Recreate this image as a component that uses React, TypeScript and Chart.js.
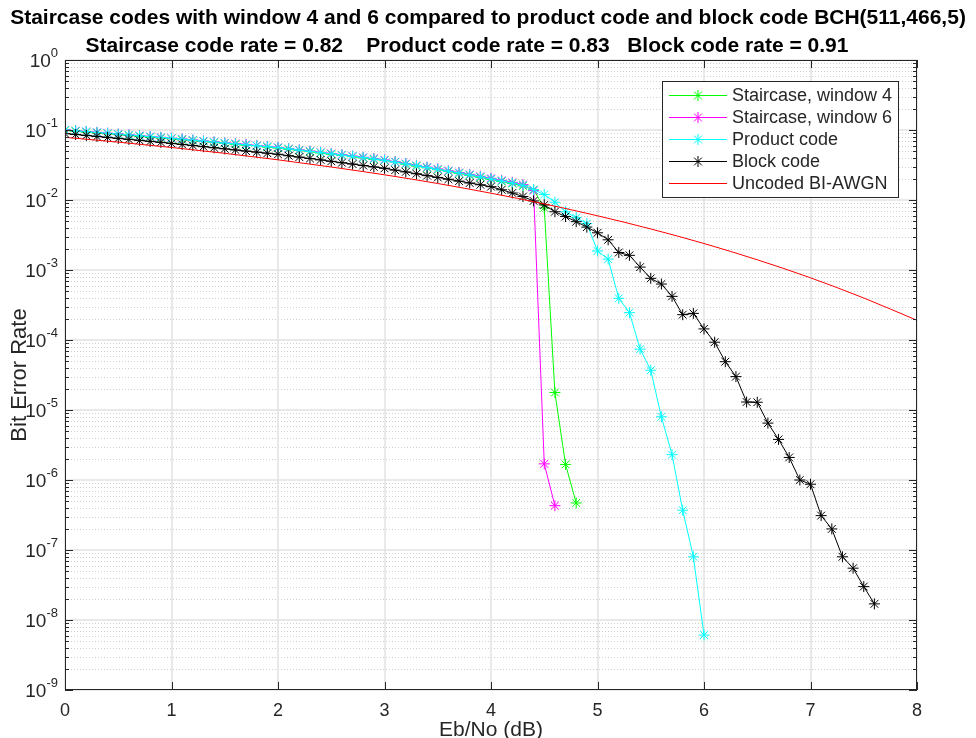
import React, { useEffect, useRef } from 'react';
import { Chart, registerables } from 'chart.js';

Chart.register(...registerables);

const FONT = '"Liberation Sans", Arial, Helvetica, sans-serif';
const TITLE = 'Staircase codes with window 4 and 6 compared to product code and block code BCH(511,466,5)';
const SUBTITLE = 'Staircase code rate = 0.82    Product code rate = 0.83   Block code rate = 0.91';
const X_LABEL = 'Eb/No (dB)';
const Y_LABEL = 'Bit Error Rate';
const X_TICKS = [0, 1, 2, 3, 4, 5, 6, 7, 8];
const Y_DECADES = [0, -1, -2, -3, -4, -5, -6, -7, -8, -9];

// Eb/No grid (dB) shared by the simulated curves
const EBNO = [
  0.0, 0.1, 0.2, 0.3, 0.4, 0.5, 0.6, 0.7, 0.8, 0.9,
  1.0, 1.1, 1.2, 1.3, 1.4, 1.5, 1.6, 1.7, 1.8, 1.9,
  2.0, 2.1, 2.2, 2.3, 2.4, 2.5, 2.6, 2.7, 2.8, 2.9,
  3.0, 3.1, 3.2, 3.3, 3.4, 3.5, 3.6, 3.7, 3.8, 3.9,
  4.0, 4.1, 4.2, 4.3, 4.4, 4.5, 4.6, 4.7, 4.8, 4.9,
  5.0, 5.1, 5.2, 5.3, 5.4, 5.5, 5.6, 5.7, 5.8, 5.9,
  6.0, 6.1, 6.2, 6.3, 6.4, 6.5, 6.6, 6.7, 6.8, 6.9,
  7.0, 7.1, 7.2, 7.3, 7.4, 7.5, 7.6,
];

const BER_STAIRCASE_W4 = [
  0.0985, 0.0960, 0.0935, 0.0910, 0.0884, 0.0860, 0.0836, 0.0814, 0.0792, 0.0771,
  0.0750, 0.0727, 0.0706, 0.0684, 0.0664, 0.0644, 0.0624, 0.0606, 0.0598, 0.0570,
  0.0553, 0.0531, 0.0510, 0.0490, 0.0470, 0.0451, 0.0436, 0.0416, 0.0399, 0.0381,
  0.0366, 0.0350, 0.0324, 0.0305, 0.0288, 0.0271, 0.0255, 0.0240, 0.0225, 0.0211,
  0.0197, 0.0184, 0.0172, 0.0159, 0.0140, 0.0077, 1.78e-5, 1.67e-6, 4.7e-7,
];

const BER_STAIRCASE_W6 = [
  0.1005, 0.0978, 0.0952, 0.0926, 0.0901, 0.0877, 0.0853, 0.0835, 0.0808, 0.0786,
  0.0764, 0.0745, 0.0720, 0.0698, 0.0677, 0.0657, 0.0642, 0.0622, 0.0601, 0.0583,
  0.0565, 0.0542, 0.0520, 0.0500, 0.0480, 0.0463, 0.0443, 0.0425, 0.0408, 0.0391,
  0.0374, 0.0352, 0.0332, 0.0313, 0.0295, 0.0278, 0.0262, 0.0247, 0.0232, 0.0218,
  0.0204, 0.0191, 0.0179, 0.0166, 0.0136, 1.7e-6, 4.3e-7,
];

const BER_PRODUCT = [
  0.1000, 0.0973, 0.0947, 0.0921, 0.0896, 0.0872, 0.0848, 0.0825, 0.0803, 0.0781,
  0.0760, 0.0737, 0.0715, 0.0693, 0.0672, 0.0652, 0.0632, 0.0613, 0.0595, 0.0577,
  0.0560, 0.0538, 0.0516, 0.0496, 0.0476, 0.0457, 0.0438, 0.0421, 0.0404, 0.0386,
  0.0370, 0.0348, 0.0328, 0.0309, 0.0291, 0.0274, 0.0258, 0.0243, 0.0228, 0.0214,
  0.0200, 0.0187, 0.0175, 0.0162, 0.0140, 0.0120, 0.0093, 0.0068, 0.0056, 0.0046,
  0.00187, 0.00143, 3.94e-4, 2.46e-4, 7.4e-5, 3.7e-5, 8.0e-6, 2.3e-6, 3.7e-7, 8.0e-8,
  6.1e-9,
];

const BER_BLOCK = [
  0.0890, 0.0862, 0.0835, 0.0809, 0.0783, 0.0758, 0.0734, 0.0711, 0.0688, 0.0666,
  0.0645, 0.0622, 0.0600, 0.0578, 0.0558, 0.0538, 0.0519, 0.0500, 0.0483, 0.0466,
  0.0450, 0.0429, 0.0410, 0.0392, 0.0374, 0.0357, 0.0341, 0.0326, 0.0311, 0.0297,
  0.0284, 0.0267, 0.0252, 0.0237, 0.0223, 0.0210, 0.0198, 0.0186, 0.0175, 0.0165,
  0.0155, 0.0140, 0.0126, 0.0112, 0.0097, 0.0085, 0.0068, 0.0058, 0.0049, 0.0041,
  0.0034, 0.0027, 0.00178, 0.00162, 0.0011, 7.6e-4, 6.3e-4, 4.2e-4, 2.3e-4, 2.4e-4,
  1.44e-4, 9.3e-5, 4.9e-5, 3.0e-5, 1.3e-5, 1.29e-5, 6.5e-6, 3.8e-6, 2.1e-6, 1.0e-6,
  8.7e-7, 3.1e-7, 2.0e-7, 8.0e-8, 5.5e-8, 3.0e-8, 1.7e-8,
];

const EBNO_UNCODED = [0, 0.5, 1, 1.5, 2, 2.5, 3, 3.5, 4, 4.5, 5, 5.5, 6, 6.5, 7, 7.5, 8];
const BER_UNCODED = [
  0.0786, 0.0671, 0.0563, 0.0464, 0.0375, 0.0296, 0.0229, 0.0172, 0.0125,
  0.0088, 0.00595, 0.00386, 0.00239, 0.00140, 7.73e-4, 3.98e-4, 1.91e-4,
];

const SERIES_NAMES = ['Staircase, window 4', 'Staircase, window 6', 'Product code', 'Block code', 'Uncoded BI-AWGN'];
const SERIES_COLORS = ['#00ff00', '#ff00ff', '#00ffff', '#000000', '#ff0000'];
const SERIES_MARKERS = [true, true, true, true, false];

const AXIS_COLOR = '#262626';

function pts(xs: number[], ys: number[]) {
  return ys.map((v, i) => ({ x: xs[i], y: v }));
}

function drawStar(ctx: CanvasRenderingContext2D, cx: number, cy: number, r: number) {
  ctx.beginPath();
  ctx.moveTo(cx - r, cy); ctx.lineTo(cx + r, cy);
  ctx.moveTo(cx, cy - r); ctx.lineTo(cx, cy + r);
  const d = r * Math.SQRT1_2;
  ctx.moveTo(cx - d, cy - d); ctx.lineTo(cx + d, cy + d);
  ctx.moveTo(cx - d, cy + d); ctx.lineTo(cx + d, cy - d);
  ctx.stroke();
}

const matlabPlugin = {
  id: 'matlabLook',
  beforeDatasetsDraw(chart: any) {
    const { ctx, chartArea: a, scales } = chart;
    const x = scales.x, y = scales.y;
    ctx.save();
    // minor horizontal dotted grid
    ctx.strokeStyle = '#cfcfcf';
    ctx.lineWidth = 1;
    ctx.setLineDash([1, 2]);
    for (const e of Y_DECADES) {
      if (e >= 0) continue;
      for (let k = 2; k <= 9; k++) {
        const py = Math.round(y.getPixelForValue(k * Math.pow(10, e))) + 0.5;
        ctx.beginPath(); ctx.moveTo(a.left, py); ctx.lineTo(a.right, py); ctx.stroke();
      }
    }
    ctx.setLineDash([]);
    // major grid
    ctx.strokeStyle = '#e2e2e2';
    ctx.lineWidth = 1.5;
    for (const e of Y_DECADES) {
      const py = Math.round(y.getPixelForValue(Math.pow(10, e)));
      ctx.beginPath(); ctx.moveTo(a.left, py); ctx.lineTo(a.right, py); ctx.stroke();
    }
    for (const t of X_TICKS) {
      const px = Math.round(x.getPixelForValue(t));
      ctx.beginPath(); ctx.moveTo(px, a.top); ctx.lineTo(px, a.bottom); ctx.stroke();
    }
    ctx.restore();
  },
  afterDatasetsDraw(chart: any) {
    const { ctx, chartArea: a, scales } = chart;
    const x = scales.x, y = scales.y;
    ctx.save();
    // axes box
    ctx.strokeStyle = AXIS_COLOR;
    ctx.lineWidth = 1;
    ctx.strokeRect(a.left + 0.5, a.top + 0.5, a.right - a.left - 1, a.bottom - a.top - 1);
    // ticks
    ctx.beginPath();
    for (const t of X_TICKS) {
      const px = Math.round(x.getPixelForValue(t)) + 0.5;
      ctx.moveTo(px, a.bottom); ctx.lineTo(px, a.bottom - 8);
      ctx.moveTo(px, a.top); ctx.lineTo(px, a.top + 8);
    }
    for (const e of Y_DECADES) {
      const py = Math.round(y.getPixelForValue(Math.pow(10, e))) + 0.5;
      ctx.moveTo(a.left, py); ctx.lineTo(a.left + 8, py);
      ctx.moveTo(a.right, py); ctx.lineTo(a.right - 8, py);
      if (e < 0) {
        for (let k = 2; k <= 9; k++) {
          const pm = Math.round(y.getPixelForValue(k * Math.pow(10, e))) + 0.5;
          ctx.moveTo(a.left, pm); ctx.lineTo(a.left + 4, pm);
          ctx.moveTo(a.right, pm); ctx.lineTo(a.right - 4, pm);
        }
      }
    }
    ctx.stroke();

    // y tick labels 10^e
    ctx.fillStyle = AXIS_COLOR;
    ctx.textBaseline = 'alphabetic';
    for (const e of Y_DECADES) {
      const py = y.getPixelForValue(Math.pow(10, e));
      const exp = String(e);
      ctx.font = `13px ${FONT}`;
      const ew = ctx.measureText(exp).width;
      const right = a.left - 7;
      ctx.textAlign = 'left';
      ctx.fillText(exp, right - ew, py - 3);
      ctx.font = `19px ${FONT}`;
      ctx.textAlign = 'right';
      ctx.fillText('10', right - ew, py + 7);
    }

    // legend
    const bx = a.right - 255, by = a.top + 21, bw = 236, bh = 116;
    ctx.fillStyle = '#ffffff';
    ctx.fillRect(bx, by, bw, bh);
    ctx.strokeStyle = AXIS_COLOR;
    ctx.lineWidth = 1;
    ctx.strokeRect(bx + 0.5, by + 0.5, bw, bh);
    ctx.font = `18px ${FONT}`;
    ctx.textAlign = 'left';
    ctx.textBaseline = 'middle';
    SERIES_NAMES.forEach((name, i) => {
      const ry = by + 14 + i * 22;
      ctx.strokeStyle = SERIES_COLORS[i];
      ctx.lineWidth = 1;
      ctx.beginPath(); ctx.moveTo(bx + 7, ry + 0.5); ctx.lineTo(bx + 65, ry + 0.5); ctx.stroke();
      if (SERIES_MARKERS[i]) drawStar(ctx, bx + 36, ry + 0.5, 5.5);
      ctx.fillStyle = AXIS_COLOR;
      ctx.fillText(name, bx + 70, ry + 1);
    });
    ctx.restore();
  },
  afterDraw(chart: any) {
    const { ctx, chartArea: a } = chart;
    ctx.save();
    ctx.fillStyle = '#000000';
    ctx.textAlign = 'center';
    ctx.textBaseline = 'alphabetic';
    ctx.font = `bold 21px ${FONT}`;
    ctx.fillText(TITLE, 488, 24);
    ctx.fillText(SUBTITLE, 467, 52);
    ctx.fillStyle = AXIS_COLOR;
    ctx.font = `21px ${FONT}`;
    ctx.fillText(X_LABEL, (a.left + a.right) / 2, 736);
    ctx.font = `22px ${FONT}`;
    ctx.translate(26, (a.top + a.bottom) / 2);
    ctx.rotate(-Math.PI / 2);
    ctx.fillText(Y_LABEL, 0, 0);
    ctx.restore();
  },
};

export default function App() {
  const ref = useRef<HTMLCanvasElement | null>(null);
  useEffect(() => {
    if (!ref.current) return;
    const seriesX = [EBNO, EBNO, EBNO, EBNO, EBNO_UNCODED];
    const seriesY = [BER_STAIRCASE_W4, BER_STAIRCASE_W6, BER_PRODUCT, BER_BLOCK, BER_UNCODED];
    const drawOrder = [4, 3, 2, 1, 0];
    const datasets = SERIES_NAMES.map((name, i) => ({
      label: name,
      data: pts(seriesX[i], seriesY[i]),
      borderColor: SERIES_COLORS[i],
      backgroundColor: SERIES_COLORS[i],
      borderWidth: 1,
      pointStyle: 'star' as const,
      pointRadius: SERIES_MARKERS[i] ? 5.5 : 0,
      pointBorderWidth: 1,
      pointBorderColor: SERIES_COLORS[i],
      pointHoverRadius: 0,
      cubicInterpolationMode: SERIES_MARKERS[i] ? ('default' as const) : ('monotone' as const),
      tension: 0,
      order: drawOrder[i],
      fill: false,
    }));
    const chart = new Chart(ref.current, {
      type: 'line',
      data: { datasets },
      options: {
        animation: false,
        responsive: false,
        maintainAspectRatio: false,
        devicePixelRatio: 1,
        events: [],
        layout: { padding: { top: 60, right: 59, left: 0, bottom: 0 } },
        plugins: { legend: { display: false }, title: { display: false }, tooltip: { enabled: false } },
        scales: {
          x: {
            type: 'linear',
            min: 0,
            max: 8,
            afterBuildTicks: (s: any) => { s.ticks = X_TICKS.map((v) => ({ value: v })); },
            afterFit: (s: any) => { s.height = 48; },
            grid: { display: false, drawTicks: false },
            border: { display: false },
            ticks: { font: { family: FONT, size: 18 }, color: AXIS_COLOR, padding: 10, maxRotation: 0, autoSkip: false },
          },
          y: {
            type: 'logarithmic',
            min: 1e-9,
            max: 1,
            afterBuildTicks: (s: any) => { s.ticks = Y_DECADES.map((e) => ({ value: Math.pow(10, e) })); },
            afterFit: (s: any) => { s.width = 65; },
            grid: { display: false, drawTicks: false },
            border: { display: false },
            ticks: { display: false },
          },
        },
      },
      plugins: [matlabPlugin],
    });
    return () => chart.destroy();
  }, []);
  return (
    <div style={{ position: 'fixed', left: 0, top: 0, width: 976, height: 738, background: '#fff' }}>
      <canvas ref={ref} width={976} height={738} style={{ width: 976, height: 738, display: 'block' }} />
    </div>
  );
}
